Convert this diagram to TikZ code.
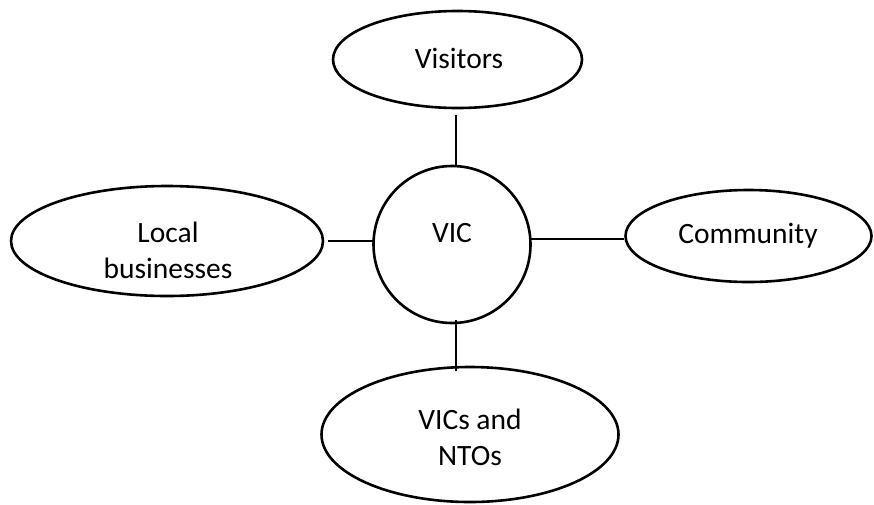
\documentclass[tikz,border=0pt]{standalone}
\usepackage{fontspec}
\setmainfont{Carlito}
\usetikzlibrary{shapes.geometric}
\begin{document}
\begin{tikzpicture}[x=1pt,y=-1pt,
  oval/.style={draw,ellipse,line width=2.6pt,inner sep=0pt},
  circ/.style={draw,circle,line width=2.6pt,inner sep=0pt},
  lbl/.style={font=\fontsize{29.5}{36}\selectfont,align=center,inner sep=0pt},
  link/.style={line width=1.2pt}]
\useasboundingbox (0,0) rectangle (874,504);
\node[oval,minimum width=249pt,minimum height=97pt] (vis) at (457.5,59.5) {};
\node[circ,minimum size=157pt] (vic) at (452,244.5) {};
\node[oval,minimum width=312pt,minimum height=110pt] (loc) at (167,241) {};
\node[oval,minimum width=246pt,minimum height=92pt] (com) at (748.5,236) {};
\node[oval,minimum width=297pt,minimum height=135pt] (nto) at (470,434.5) {};
\node[lbl,anchor=base] (tvis) at (459,68) {Visitors};
\node[lbl,anchor=base] (tvic) at (452,242) {VIC};
\node[lbl,anchor=base] (tloc) at (168,278) {Local\\businesses};
\node[lbl,anchor=base] (tcom) at (748,243) {Community};
\node[lbl,anchor=base] (tnto) at (470,465) {VICs and\\NTOs};
\draw[link] ([shift={(-1.5,6)}]vis.south) -- ([shift={(4,2)}]vic.north);
\draw[link] ([shift={(4,0)}]loc.east) -- ([shift={(1,-3.5)}]vic.west);
\draw[link] ([shift={(-1,-5.5)}]vic.east) -- ([shift={(0,3)}]com.west);
\draw[link] ([shift={(4,-4)}]vic.south) -- ([shift={(-14,5)}]nto.north);
\end{tikzpicture}
\end{document}
